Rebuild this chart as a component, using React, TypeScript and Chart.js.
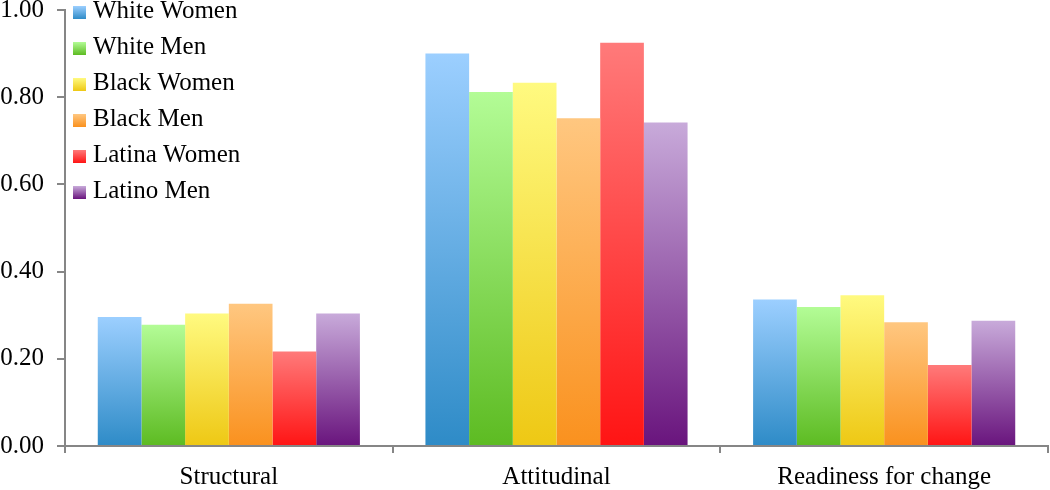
import React, { useEffect, useRef } from "react";
import { Chart, registerables } from "chart.js";

Chart.register(...registerables);

const categories = ["Structural", "Attitudinal", "Readiness for change"];
const seriesNames = ["White Women", "White Men", "Black Women", "Black Men", "Latina Women", "Latino Men"];
const whiteWomen = [0.296, 0.9, 0.336];
const whiteMen = [0.278, 0.812, 0.319];
const blackWomen = [0.304, 0.833, 0.346];
const blackMen = [0.326, 0.752, 0.284];
const latinaWomen = [0.217, 0.925, 0.186];
const latinoMen = [0.304, 0.742, 0.287];
const seriesValues = [whiteWomen, whiteMen, blackWomen, blackMen, latinaWomen, latinoMen];
const topColors = ["#9ccfff", "#b3fc96", "#fffa80", "#ffc780", "#ff7a7a", "#c8aada"];
const bottomColors = ["#2e8bc7", "#5dbb22", "#eec814", "#fa911e", "#ff1414", "#69147d"];
const yTicks = [0, 0.2, 0.4, 0.6, 0.8, 1.0];

const FONT = "'Liberation Serif', 'Times New Roman', serif";
const AXIS = "#868686";

const legendPlugin = {
  id: "customLegend",
  afterDraw(chart: any) {
    const ctx = chart.ctx;
    ctx.save();
    chart.data.datasets.forEach((ds: any, i: number) => {
      const cy = 12.5 + i * 36;
      const bx = 73;
      const by = cy - 6.5;
      const g = ctx.createLinearGradient(0, by, 0, by + 13);
      g.addColorStop(0, topColors[i]);
      g.addColorStop(1, bottomColors[i]);
      ctx.fillStyle = g;
      ctx.fillRect(bx, by, 13, 13);
      ctx.fillStyle = "#000";
      ctx.font = `25px ${FONT}`;
      ctx.textBaseline = "middle";
      ctx.textAlign = "left";
      ctx.fillText(ds.label, 93, cy - 1);
    });
    ctx.restore();
  },
};

export default function App() {
  const ref = useRef<HTMLCanvasElement>(null);
  useEffect(() => {
    document.body.style.margin = "0";
    const chart = new Chart(ref.current as HTMLCanvasElement, {
      type: "bar",
      data: {
        labels: categories,
        datasets: seriesNames.map((name, i) => ({
          label: name,
          data: seriesValues[i],
          borderWidth: 0,
          barPercentage: 1,
          categoryPercentage: 0.8,
          backgroundColor: (c: any) => {
            const chart = c.chart;
            if (!chart.chartArea || c.type !== "data" || !chart.scales.y) return topColors[i];
            const ys = chart.scales.y;
            const top = ys.getPixelForValue(c.raw);
            const bottom = ys.getPixelForValue(0);
            if (!isFinite(top) || !isFinite(bottom) || top === bottom) return topColors[i];
            const g = chart.ctx.createLinearGradient(0, top, 0, bottom);
            g.addColorStop(0, topColors[i]);
            g.addColorStop(1, bottomColors[i]);
            return g;
          },
        })),
      },
      options: {
        animation: false,
        responsive: true,
        maintainAspectRatio: false,
        layout: { padding: { top: 10, right: 2, left: 0, bottom: 0 } },
        plugins: {
          legend: { display: false },
          tooltip: { enabled: false },
        },
        scales: {
          x: {
            grid: {
              display: true,
              drawOnChartArea: false,
              drawTicks: true,
              tickLength: 7,
              color: AXIS,
              lineWidth: 2,
              offset: true,
            },
            border: { display: true, color: AXIS, width: 2 },
            ticks: {
              color: "#000",
              padding: 9,
              font: { family: FONT, size: 25, lineHeight: 1.2 },
            },
            afterFit: (s: any) => {
              s.height = 44;
              s.paddingLeft = 0;
              s.paddingRight = 0;
            },
          },
          y: {
            min: 0,
            max: 1,
            afterBuildTicks: (s: any) => {
              s.ticks = yTicks.map((v) => ({ value: v }));
            },
            grid: {
              display: true,
              drawOnChartArea: false,
              drawTicks: true,
              tickLength: 8,
              color: AXIS,
              lineWidth: 2,
            },
            border: { display: true, color: AXIS, width: 2 },
            ticks: {
              color: "#000",
              padding: 13,
              font: { family: FONT, size: 25, lineHeight: 1 },
              callback: (v: any) => Number(v).toFixed(2),
            },
            afterFit: (s: any) => {
              s.width = 65;
              s.paddingTop = 0;
              s.paddingBottom = 0;
            },
          },
        },
      },
      plugins: [legendPlugin],
    });
    return () => chart.destroy();
  }, []);
  return (
    <div style={{ position: "fixed", left: 0, top: 0, width: 1050, height: 490, background: "#fff" }}>
      <canvas ref={ref} />
    </div>
  );
}
